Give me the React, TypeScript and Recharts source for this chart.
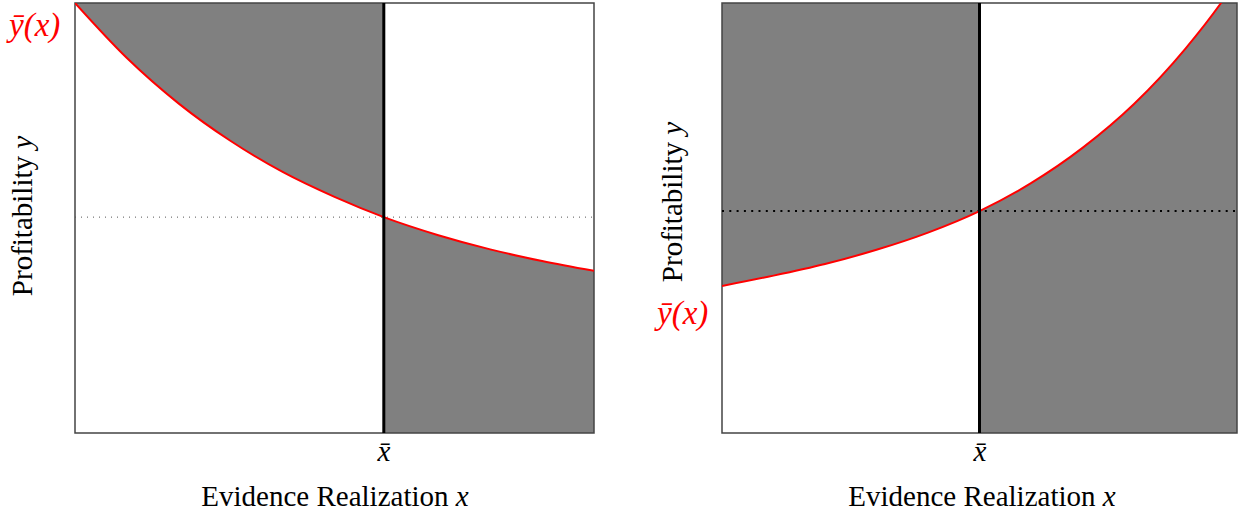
import React from 'react'
import { ComposedChart, Area, Line, XAxis, YAxis, ReferenceLine, ReferenceArea } from 'recharts'

// left panel: decreasing threshold curve
const XBAR_L = 0.595
const YBAR_L = 0.502
const tLeft = [0, 0.1, 0.2, 0.3, 0.4, 0.5, 0.595, 0.7, 0.8, 0.9, 1]
const yLeft = [1.0, 0.872, 0.766, 0.679, 0.607, 0.549, 0.502, 0.46, 0.427, 0.4, 0.377]

// right panel: increasing threshold curve
const XBAR_R = 0.5
const YBAR_R = 0.516
const tRight = [0, 0.1, 0.2, 0.3, 0.4, 0.5, 0.6, 0.7, 0.8, 0.9, 0.969, 1]
const yRight = [0.342, 0.366, 0.393, 0.426, 0.466, 0.516, 0.581, 0.663, 0.765, 0.894, 1.0, 1.054]

const FONT = '"Liberation Serif", "DejaVu Serif", serif'
const GREY = '#808080'

function buildRows(ts: number[], ys: number[], xbar: number) {
  return ts.map((t, i) => ({
    t,
    y: ys[i],
    above: t <= xbar ? [ys[i], 1.2] : null,
    below: t >= xbar ? [0, ys[i]] : null,
  }))
}

function Panel({ ts, ys, xbar, ybar, left, width, mLeft, mRight, dot }: {
  ts: number[]; ys: number[]; xbar: number; ybar: number
  left: number; width: number; mLeft: number; mRight: number
  dot: { stroke: string; width: number; dash: string }
}) {
  const rows = buildRows(ts, ys, xbar)
  return (
    <div style={{ position: 'absolute', left, top: 0 }}>
      <ComposedChart width={width} height={440} data={rows}
        margin={{ top: 3, right: mRight, bottom: 7, left: mLeft }}>
        <XAxis type="number" dataKey="t" domain={[0, 1]} hide allowDataOverflow />
        <YAxis type="number" domain={[0, 1]} hide allowDataOverflow />
        <Area type="monotone" dataKey="above" fill={GREY} fillOpacity={1} stroke="none" isAnimationActive={false} />
        <Area type="monotone" dataKey="below" fill={GREY} fillOpacity={1} stroke="none" isAnimationActive={false} />
        <ReferenceLine y={ybar} stroke={dot.stroke} strokeWidth={dot.width} strokeDasharray={dot.dash} />
        <Line type="monotone" dataKey="y" stroke="#ff0000" strokeWidth={2} dot={false} isAnimationActive={false} />
        <ReferenceLine x={xbar} stroke="#000" strokeWidth={3} />
        <ReferenceArea x1={0} x2={1} y1={0} y2={1} fill="none" stroke="#444" strokeWidth={1.5} fillOpacity={0} />
      </ComposedChart>
    </div>
  )
}

const txt: React.CSSProperties = { position: 'absolute', fontFamily: FONT, fontSize: 29, lineHeight: 1, whiteSpace: 'nowrap', color: '#000' }
const red: React.CSSProperties = { ...txt, fontSize: 33, color: '#ff0000', fontStyle: 'italic' }

export default function App() {
  return (
    <div style={{ position: 'absolute', left: 0, top: 0, width: 1238, height: 514, background: '#fff', overflow: 'hidden' }}>
      <Panel ts={tLeft} ys={yLeft} xbar={XBAR_L} ybar={YBAR_L} left={0} width={600} mLeft={75} mRight={6}
        dot={{ stroke: '#555', width: 1, dash: '1 5' }} />
      <Panel ts={tRight} ys={yRight} xbar={XBAR_R} ybar={YBAR_R} left={640} width={598} mLeft={82} mRight={1}
        dot={{ stroke: '#000', width: 2, dash: '2 5.3' }} />

      {/* left panel texts */}
      <div style={{ ...red, left: 9, top: 9 }}>ȳ(x)</div>
      <div style={{ ...txt, left: 384, top: 437, transform: 'translateX(-50%)', fontStyle: 'italic' }}>x̄</div>
      <div style={{ ...txt, left: 335, top: 482, transform: 'translateX(-50%)' }}>Evidence Realization <i>x</i></div>
      <div style={{ ...txt, left: 22, top: 216, transform: 'translate(-50%, -50%) rotate(-90deg)' }}>Profitability <i>y</i></div>

      {/* right panel texts */}
      <div style={{ ...red, left: 657, top: 297 }}>ȳ(x)</div>
      <div style={{ ...txt, left: 980, top: 437, transform: 'translateX(-50%)', fontStyle: 'italic' }}>x̄</div>
      <div style={{ ...txt, left: 982, top: 482, transform: 'translateX(-50%)' }}>Evidence Realization <i>x</i></div>
      <div style={{ ...txt, left: 672, top: 202, transform: 'translate(-50%, -50%) rotate(-90deg)' }}>Profitability <i>y</i></div>
    </div>
  )
}
